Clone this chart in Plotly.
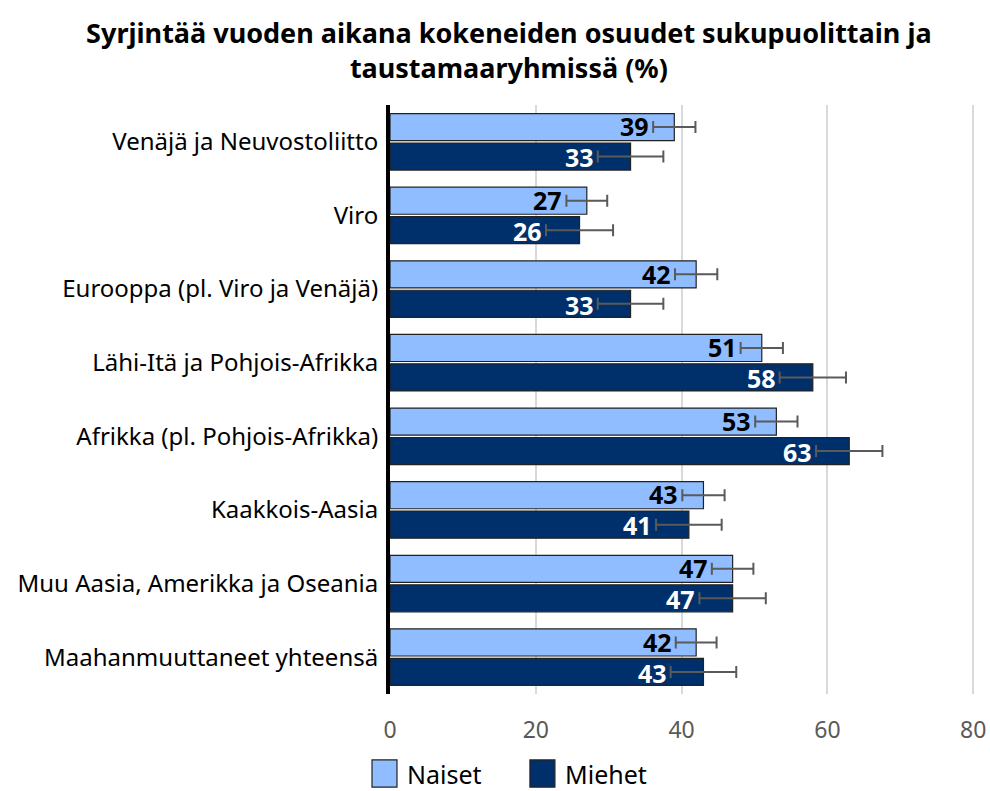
import plotly.graph_objects as go

# Background groups (top to bottom)
categories = [
    "Venäjä ja Neuvostoliitto",
    "Viro",
    "Eurooppa (pl. Viro ja Venäjä)",
    "Lähi-Itä ja Pohjois-Afrikka",
    "Afrikka (pl. Pohjois-Afrikka)",
    "Kaakkois-Aasia",
    "Muu Aasia, Amerikka ja Oseania",
    "Maahanmuuttaneet yhteensä",
]

# Share (%) who experienced discrimination during the year
naiset = [39, 27, 42, 51, 53, 43, 47, 42]
miehet = [33, 26, 33, 58, 63, 41, 47, 43]

# Confidence interval half-widths (percentage points)
naiset_err = [2.9, 2.8, 2.9, 2.9, 2.9, 2.9, 2.85, 2.8]
miehet_err = [4.5, 4.6, 4.5, 4.55, 4.55, 4.5, 4.55, 4.5]

x_ticks = [0, 20, 40, 60, 80]

series_names = ["Naiset", "Miehet"]
colors = ["#8fbdff", "#00306b"]
label_colors = ["#000000", "#ffffff"]

FONT = "Noto Sans"
X_MAX = 80.25  # a little headroom so the 80 gridline is drawn

fig = go.Figure()
for name, vals, errs, col in zip(series_names, [naiset, miehet],
                                 [naiset_err, miehet_err], colors):
    fig.add_trace(go.Bar(
        name=name,
        y=categories,
        x=vals,
        orientation="h",
        marker=dict(color=col, line=dict(color="#222222", width=1.2)),
        error_x=dict(type="data", array=errs, visible=True,
                     color="#5a5a5a", thickness=2, width=6),
        showlegend=False,
        hoverinfo="x+y",
    ))

# Value labels sit just left of each error bar's lower end
for s, (vals, errs, lc) in enumerate(zip([naiset, miehet],
                                        [naiset_err, miehet_err],
                                        label_colors)):
    offset = -0.21 if s == 0 else 0.21
    for i, (v, e) in enumerate(zip(vals, errs)):
        fig.add_annotation(
            x=v - e, y=i + offset, xref="x", yref="y",
            text=f"<b>{v}</b>", showarrow=False,
            xanchor="right", yanchor="middle", xshift=-2,
            font=dict(family=FONT, size=25, color=lc),
        )

# Legend drawn below the axis (pixel positions converted to paper units)
PLOT_L, PLOT_W = 390, 585.3
legend_items = [(372, "Naiset", colors[0]), (530, "Miehet", colors[1])]
for px, text, col in legend_items:
    fig.add_shape(type="rect", xref="paper", yref="paper",
                  x0=(px - PLOT_L) / PLOT_W, x1=(px + 25 - PLOT_L) / PLOT_W,
                  y0=-0.158, y1=-0.112,
                  fillcolor=col, line=dict(color="#222222", width=1.2))
    fig.add_annotation(x=(px + 33 - PLOT_L) / PLOT_W, y=-0.136,
                       xref="paper", yref="paper",
                       text=text, showarrow=False, xanchor="left", yanchor="middle",
                       font=dict(family=FONT, size=25, color="#000000"))

fig.update_layout(
    width=990, height=791,
    margin=dict(l=390, r=990 - 390 - PLOT_W, t=105, b=97),
    paper_bgcolor="white", plot_bgcolor="white",
    barmode="group", bargap=0.2, bargroupgap=0.08,
    font=dict(family=FONT, color="#000000"),
    title=dict(
        text="<b>Syrjintää vuoden aikana kokeneiden osuudet sukupuolittain ja<br>taustamaaryhmissä (%)</b>",
        x=0.514, xanchor="center", y=0.946, yanchor="middle",
        font=dict(family=FONT, size=27, color="#000000"),
    ),
    xaxis=dict(
        range=[0, X_MAX], tickvals=x_ticks, showgrid=True,
        gridcolor="#d9d9d9", gridwidth=1.5, zeroline=False,
        showline=False, ticks="", ticklabelstandoff=20,
        tickfont=dict(family=FONT, size=23, color="#595959"),
        automargin=False,
    ),
    yaxis=dict(
        autorange="reversed", showline=True, linecolor="#000000",
        linewidth=4, ticks="", ticklabelstandoff=3,
        tickfont=dict(family=FONT, size=24, color="#000000"),
        showgrid=False, automargin=False,
    ),
)

fig.write_html("out.html")
